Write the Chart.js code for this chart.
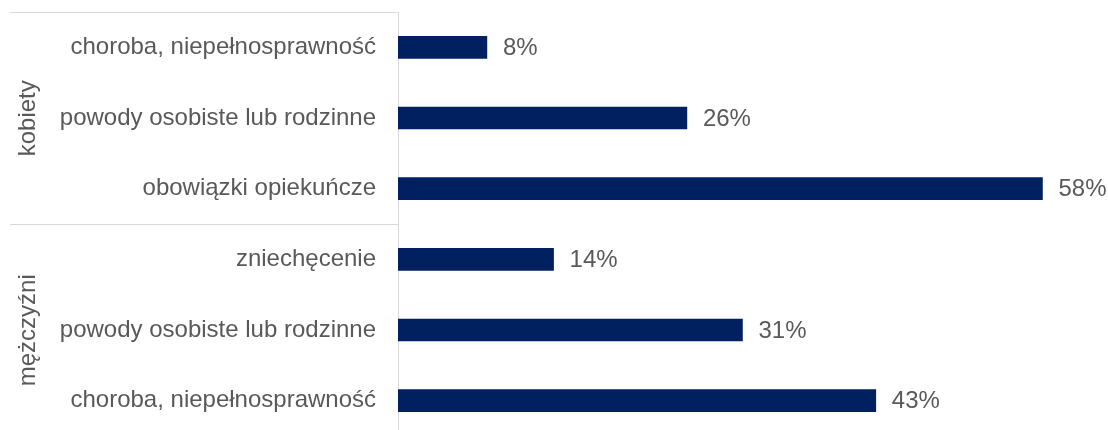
<!DOCTYPE html>
<html>
<head>
<meta charset="utf-8">
<script src="https://cdn.jsdelivr.net/npm/chart.js@4.4.1/dist/chart.umd.min.js"></script>
<style>
  html, body { margin: 0; padding: 0; background: #fff; overflow: hidden; }
  #wrap { position: relative; width: 1108px; height: 436px; }
</style>
</head>
<body>
<div id="wrap"><canvas id="chart"></canvas></div>
<script>
const labels = [
  'choroba, niepełnosprawność',
  'powody osobiste lub rodzinne',
  'obowiązki opiekuńcze',
  'zniechęcenie',
  'powody osobiste lub rodzinne',
  'choroba, niepełnosprawność'
];
const values = [8, 26, 58, 14, 31, 43];
const groups = [
  { name: 'kobiety', from: 0, to: 2 },
  { name: 'mężczyźni', from: 3, to: 5 }
];

const FONT = '"Liberation Sans", Arial, sans-serif';
const TEXT = '#595959';
const LINE = '#d9d9d9';

// percent labels next to bars
const barLabels = {
  id: 'barLabels',
  afterDatasetsDraw(chart) {
    const ctx = chart.ctx;
    const meta = chart.getDatasetMeta(0);
    ctx.save();
    ctx.font = '24px ' + FONT;
    ctx.fillStyle = TEXT;
    ctx.textBaseline = 'middle';
    ctx.textAlign = 'left';
    meta.data.forEach((bar, i) => {
      ctx.fillText(values[i] + '%', bar.x + 16, bar.y + 1);
    });
    ctx.restore();
  }
};

// group labels and separators in the axis area
const groupAxis = {
  id: 'groupAxis',
  afterDraw(chart) {
    const ctx = chart.ctx;
    const y = chart.scales.y;
    const left = 10;
    const right = y.right;
    const half = (y.getPixelForValue(1) - y.getPixelForValue(0)) / 2;
    ctx.save();
    ctx.strokeStyle = LINE;
    ctx.lineWidth = 1;
    groups.forEach(g => {
      const top = Math.round(y.getPixelForValue(g.from) - half) + 0.5;
      const bottom = y.getPixelForValue(g.to) + half;
      ctx.beginPath();
      ctx.moveTo(left, top);
      ctx.lineTo(right, top);
      ctx.stroke();
      ctx.save();
      ctx.translate(28, (top + bottom) / 2);
      ctx.rotate(-Math.PI / 2);
      ctx.font = '24px ' + FONT;
      ctx.fillStyle = TEXT;
      ctx.textAlign = 'center';
      ctx.textBaseline = 'middle';
      ctx.fillText(g.name, 0, 0);
      ctx.restore();
    });
    ctx.restore();
  }
};

new Chart(document.getElementById('chart'), {
  type: 'bar',
  data: {
    labels,
    datasets: [{
      data: values,
      backgroundColor: '#002060',
      borderWidth: 0,
      barThickness: 22
    }]
  },
  options: {
    indexAxis: 'y',
    responsive: true,
    maintainAspectRatio: false,
    animation: false,
    layout: { padding: { top: 12, right: 0, bottom: 0, left: 0 } },
    plugins: { legend: { display: false }, tooltip: { enabled: false } },
    scales: {
      x: {
        display: false,
        min: 0,
        max: 63.9
      },
      y: {
        afterFit(scale) {
          scale.width = 398;
          scale.paddingTop = 0;
          scale.paddingBottom = 0;
        },
        grid: { display: false, drawTicks: false },
        border: { display: true, color: LINE, width: 1 },
        ticks: {
          color: TEXT,
          font: { family: FONT, size: 24 },
          padding: 22,
          autoSkip: false
        }
      }
    }
  },
  plugins: [barLabels, groupAxis]
});
</script>
</body>
</html>
